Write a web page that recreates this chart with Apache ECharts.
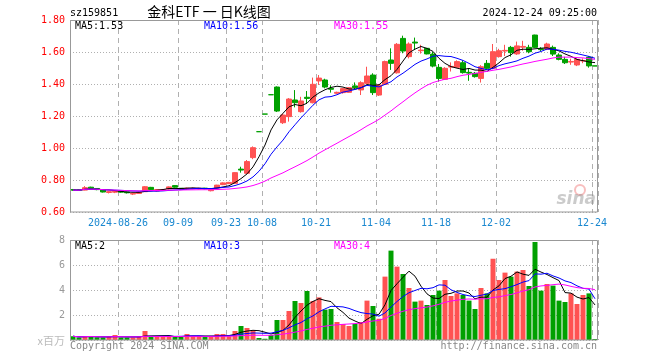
<!DOCTYPE html>
<html>
<head>
<meta charset="utf-8">
<script src="https://cdn.jsdelivr.net/npm/echarts@6/dist/echarts.min.js"></script>
<style>html,body{margin:0;padding:0;background:#fff;}#c{width:660px;height:360px;}</style>
</head>
<body>
<div id="c"></div>
<script>
const dates = [
'2024-08-14','2024-08-15','2024-08-16','2024-08-19','2024-08-20','2024-08-21','2024-08-22','2024-08-23','2024-08-26','2024-08-27','2024-08-28','2024-08-29','2024-08-30',
'2024-09-02','2024-09-03','2024-09-04','2024-09-05','2024-09-06','2024-09-09','2024-09-10','2024-09-11','2024-09-12','2024-09-13','2024-09-18','2024-09-19','2024-09-20','2024-09-23','2024-09-24','2024-09-25','2024-09-26','2024-09-27','2024-09-30',
'2024-10-08','2024-10-09','2024-10-10','2024-10-11','2024-10-14','2024-10-15','2024-10-16','2024-10-17','2024-10-18','2024-10-21','2024-10-22','2024-10-23','2024-10-24','2024-10-25','2024-10-28','2024-10-29','2024-10-30','2024-10-31',
'2024-11-01','2024-11-04','2024-11-05','2024-11-06','2024-11-07','2024-11-08','2024-11-11','2024-11-12','2024-11-13','2024-11-14','2024-11-15','2024-11-18','2024-11-19','2024-11-20','2024-11-21','2024-11-22','2024-11-25','2024-11-26','2024-11-27','2024-11-28','2024-11-29',
'2024-12-02','2024-12-03','2024-12-04','2024-12-05','2024-12-06','2024-12-09','2024-12-10','2024-12-11','2024-12-12','2024-12-13','2024-12-16','2024-12-17','2024-12-18','2024-12-19','2024-12-20','2024-12-23','2024-12-24'
];
const opens = [
0.740,0.739,0.737,0.755,0.747,0.738,0.722,0.724,0.730,0.725,0.712,0.716,0.727,0.754,0.731,0.736,0.744,0.765,0.748,0.745,0.746,0.745,0.749,0.733,0.750,0.771,0.777,0.779,0.868,0.842,
0.940,1.102,1.212,1.333,1.381,1.158,1.196,1.300,1.227,1.317,1.283,1.419,1.425,1.373,1.342,1.346,1.348,1.388,1.363,1.404,
1.456,1.331,1.398,1.550,1.470,1.685,1.571,1.662,1.608,1.623,1.587,1.504,1.429,1.506,1.504,1.533,1.473,1.467,1.435,1.529,
1.498,1.571,1.606,1.629,1.588,1.630,1.629,1.706,1.620,1.617,1.629,1.581,1.554,1.537,1.519,1.544,1.567,1.513
];
const closes = [
0.737,0.736,0.752,0.747,0.740,0.725,0.727,0.729,0.724,0.720,0.717,0.724,0.758,0.740,0.740,0.740,0.757,0.755,0.744,0.749,0.748,0.748,0.745,0.740,0.768,0.782,0.785,0.846,0.862,0.915,
1.002,1.102,1.212,1.333,1.231,1.206,1.306,1.283,1.294,1.310,1.398,1.437,1.381,1.367,1.348,1.371,1.377,1.377,1.408,1.450,
1.346,1.394,1.540,1.529,1.648,1.606,1.650,1.656,1.612,1.588,1.512,1.435,1.498,1.510,1.540,1.471,1.468,1.446,1.508,1.498,
1.602,1.608,1.610,1.596,1.638,1.635,1.602,1.629,1.615,1.650,1.587,1.554,1.533,1.541,1.554,1.547,1.513,1.513
];
const lows = [
0.733,0.732,0.735,0.743,0.736,0.722,0.716,0.718,0.720,0.716,0.706,0.713,0.725,0.737,0.728,0.733,0.740,0.752,0.741,0.738,0.743,0.742,0.742,0.729,0.748,0.768,0.775,0.776,0.846,0.840,
0.930,1.102,1.212,1.333,1.225,1.150,1.165,1.254,1.221,1.279,1.279,1.394,1.373,1.346,1.338,1.340,1.345,1.366,1.331,1.400,
1.331,1.325,1.394,1.488,1.465,1.592,1.560,1.612,1.590,1.585,1.504,1.415,1.425,1.478,1.500,1.465,1.420,1.440,1.409,1.488,
1.492,1.565,1.575,1.571,1.582,1.608,1.592,1.625,1.606,1.612,1.575,1.548,1.525,1.520,1.512,1.530,1.502,1.513
];
const highs = [
0.744,0.742,0.762,0.758,0.750,0.740,0.730,0.733,0.733,0.727,0.720,0.728,0.762,0.757,0.743,0.744,0.760,0.768,0.750,0.752,0.752,0.751,0.751,0.743,0.770,0.786,0.788,0.848,0.883,0.925,
1.010,1.102,1.212,1.333,1.385,1.215,1.312,1.362,1.320,1.356,1.440,1.456,1.433,1.392,1.352,1.375,1.380,1.410,1.417,1.508,
1.467,1.400,1.546,1.623,1.656,1.702,1.660,1.690,1.645,1.625,1.600,1.525,1.505,1.535,1.548,1.548,1.498,1.475,1.518,1.550,
1.650,1.620,1.645,1.638,1.665,1.670,1.645,1.708,1.630,1.658,1.640,1.592,1.570,1.558,1.560,1.560,1.575,1.513
];
const volumes = [
0.30,0.20,0.30,0.30,0.22,0.20,0.25,0.40,0.20,0.20,0.20,0.25,0.72,0.27,0.25,0.25,0.30,0.26,0.26,0.48,0.30,0.30,0.26,0.26,0.48,0.48,0.30,0.72,1.12,0.96,
0.77,0.16,0.10,0.40,1.60,1.60,2.32,3.12,2.96,3.92,3.12,3.41,2.43,2.48,1.44,1.28,1.12,1.28,1.44,3.15,
2.72,1.70,5.07,7.15,5.87,5.28,4.16,3.07,3.15,2.80,3.60,3.95,4.80,3.52,3.73,3.60,3.15,2.48,4.16,3.73,
6.50,4.80,5.39,5.07,5.47,5.60,4.32,7.84,3.95,4.48,4.35,3.15,3.04,3.73,2.88,3.60,3.73,0.08
];
const tickDates = ['2024-08-26','2024-09-09','2024-09-23','2024-10-08','2024-10-21','2024-11-04','2024-11-18','2024-12-02','2024-12-24'];
const tickLabels = ['2024-08-26','09-09','09-23','10-08','10-21','11-04','11-18','12-02','12-24'];
const priceTicks = {min:0.6, max:1.8, step:0.2};
const volTicks = {min:0, max:8, step:2};

const UP = '#ff5252', DOWN = '#00a000';
function ma(arr, n){
  return arr.map((_, i) => {
    const s = Math.max(0, i - n + 1); let sum = 0;
    for (let k = s; k <= i; k++) sum += arr[k];
    return +(sum / (i - s + 1)).toFixed(4);
  });
}
const kData = dates.map((d, i) => [opens[i], closes[i], lows[i], highs[i]]);
const volData = volumes.map((v, i) => ({value: v, itemStyle: {color: closes[i] > opens[i] ? UP : DOWN}}));
const tickSet = new Set(tickDates);
const showTick = (idx, val) => tickSet.has(dates[idx]);
const MONO = 'DejaVu Sans Mono';

const chart = echarts.init(document.getElementById('c'), null, {renderer: 'canvas'});
const vSplit = {show: true, interval: showTick, lineStyle: {color: '#b0b0b0', type: [5, 4], width: 1}};
const hSplit = {show: true, lineStyle: {color: '#b0b0b0', type: [1, 2], width: 1}};
function lineS(name, data, color, xi, yi){
  return {name, type: 'line', data, xAxisIndex: xi, yAxisIndex: yi, showSymbol: false, symbol: 'none',
    lineStyle: {color, width: 1}, itemStyle: {color}, z: 5, silent: true, smooth: false};
}
const txt = (x, y, text, opt) => ({type: 'text', x, y, z: 120, style: Object.assign({text, fill: '#000', font: '10px ' + MONO, textVerticalAlign: 'middle'}, opt || {})});

chart.setOption({
  animation: false,
  backgroundColor: '#fff',
  grid: [
    {left: 70, top: 20, width: 528, height: 192},
    {left: 70, top: 240, width: 528, height: 100}
  ],
  xAxis: [
    {type: 'category', gridIndex: 0, data: dates, boundaryGap: true,
     axisLine: {show: false}, axisTick: {show: false},
     axisLabel: {interval: showTick, formatter: (v) => tickLabels[tickDates.indexOf(v)] || '', color: '#1a88d0',
       fontFamily: MONO, fontSize: 10, margin: 6, padding: [0, 6, 0, 0]},
     splitLine: vSplit},
    {type: 'category', gridIndex: 1, data: dates, boundaryGap: true,
     axisLine: {show: false}, axisTick: {show: false}, axisLabel: {show: false},
     splitLine: vSplit}
  ],
  yAxis: [
    {type: 'value', gridIndex: 0, min: priceTicks.min, max: priceTicks.max, interval: priceTicks.step,
     axisLine: {show: false}, axisTick: {show: false},
     axisLabel: {formatter: (v) => v.toFixed(2), color: '#ff0000', fontFamily: MONO, fontSize: 10, margin: 5},
     splitLine: hSplit},
    {type: 'value', gridIndex: 1, min: volTicks.min, max: volTicks.max, interval: volTicks.step,
     axisLine: {show: false}, axisTick: {show: false},
     axisLabel: {formatter: (v) => v === 0 ? '' : String(v), color: '#999', fontFamily: MONO, fontSize: 10, margin: 5},
     splitLine: hSplit}
  ],
  series: [
    {type: 'candlestick', xAxisIndex: 0, yAxisIndex: 0, data: kData, barWidth: 5, z: 3,
     itemStyle: {color: UP, color0: DOWN, borderColor: UP, borderColor0: DOWN, borderColorDoji: DOWN, borderWidth: 1}},
    lineS('MA5', ma(closes, 5), '#000000', 0, 0),
    lineS('MA10', ma(closes, 10), '#0000ff', 0, 0),
    lineS('MA30', ma(closes, 30), '#ff00ff', 0, 0),
    {type: 'bar', xAxisIndex: 1, yAxisIndex: 1, data: volData, barWidth: 5, z: 3},
    lineS('VMA5', ma(volumes, 5), '#000000', 1, 1),
    lineS('VMA10', ma(volumes, 10), '#0000ff', 1, 1),
    lineS('VMA30', ma(volumes, 30), '#ff00ff', 1, 1)
  ],
  graphic: [
    {type: 'rect', z: 110, shape: {x: 70.5, y: 20.5, width: 527, height: 191.5}, style: {fill: 'none', stroke: '#999', lineWidth: 1}},
    {type: 'rect', z: 110, shape: {x: 70.5, y: 240.5, width: 527, height: 99.5}, style: {fill: 'none', stroke: '#999', lineWidth: 1}},
    txt(70, 13, 'sz159851'),
    {type: 'text', x: 209, y: 12, z: 120, style: {text: '金科ETF 一 日K线图', fill: '#000', font: '14px "Noto Sans CJK SC"', textAlign: 'center', textVerticalAlign: 'middle'}},
    txt(597, 13, '2024-12-24 09:25:00', {textAlign: 'right'}),
    txt(75, 26, 'MA5:1.53'),
    txt(204, 26, 'MA10:1.56', {fill: '#0000ff'}),
    txt(334, 26, 'MA30:1.55', {fill: '#ff00ff'}),
    txt(75, 246, 'MA5:2'),
    txt(204, 246, 'MA10:3', {fill: '#0000ff'}),
    txt(334, 246, 'MA30:4', {fill: '#ff00ff'}),
    txt(70, 346, 'Copyright 2024 SINA.COM', {fill: '#888'}),
    txt(597, 346, 'http://finance.sina.com.cn', {fill: '#888', textAlign: 'right'}),
    {type: 'text', x: 65, y: 341, z: 120, style: {text: 'x百万', fill: '#bbb', font: '11px "Noto Sans CJK SC"', textAlign: 'right', textVerticalAlign: 'middle'}},
    {type: 'circle', z: 1, shape: {cx: 580, cy: 190, r: 5}, style: {fill: 'none', stroke: 'rgba(240,110,110,0.45)', lineWidth: 2}},
    {type: 'text', x: 596, y: 200, z: 1, style: {text: 'sina', fill: 'rgba(140,140,140,0.45)', font: 'italic bold 17px "DejaVu Sans"', textAlign: 'right', textVerticalAlign: 'middle'}}
  ]
});
</script>
</body>
</html>
